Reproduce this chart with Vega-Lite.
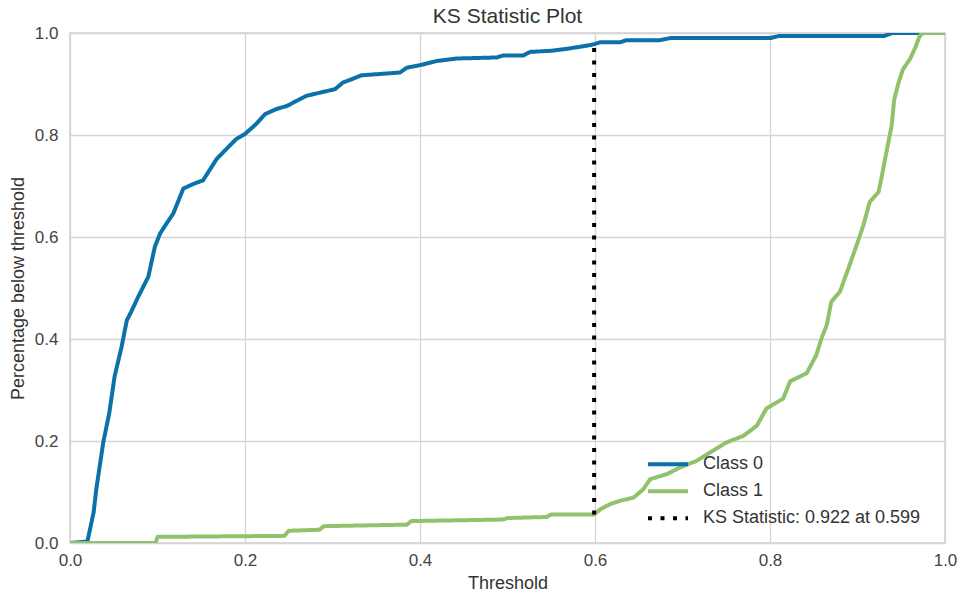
{
  "$schema": "https://vega.github.io/schema/vega-lite/v6.json",
  "width": 875,
  "height": 510,
  "autosize": {"type": "none"},
  "padding": {"left": 70, "top": 33, "right": 19, "bottom": 54},
  "background": "white",
  "config": {
    "font": "Liberation Sans",
    "view": {"stroke": "#d0d0d0", "strokeWidth": 1.5},
    "axis": {
      "gridColor": "#d5d5d5",
      "gridWidth": 1.3,
      "domain": false,
      "ticks": false,
      "labelFontSize": 17,
      "labelColor": "#444444",
      "titleFontSize": 18,
      "titleFontWeight": "normal",
      "titleColor": "#333333"
    }
  },
  "title": {"text": "KS Statistic Plot", "fontSize": 21, "fontWeight": "normal", "color": "#333333", "offset": -3, "frame": "group"},
  "data": {
    "values": [
      {"s": "Class 0", "x": 0, "y": 0},
      {"s": "Class 0", "x": 0.02, "y": 0.003},
      {"s": "Class 0", "x": 0.021, "y": 0.012},
      {"s": "Class 0", "x": 0.027, "y": 0.06},
      {"s": "Class 0", "x": 0.03, "y": 0.105},
      {"s": "Class 0", "x": 0.038, "y": 0.197},
      {"s": "Class 0", "x": 0.045, "y": 0.256},
      {"s": "Class 0", "x": 0.051, "y": 0.327},
      {"s": "Class 0", "x": 0.059, "y": 0.385},
      {"s": "Class 0", "x": 0.065, "y": 0.437},
      {"s": "Class 0", "x": 0.069, "y": 0.45},
      {"s": "Class 0", "x": 0.078, "y": 0.483},
      {"s": "Class 0", "x": 0.0895, "y": 0.522},
      {"s": "Class 0", "x": 0.097, "y": 0.581},
      {"s": "Class 0", "x": 0.103, "y": 0.607},
      {"s": "Class 0", "x": 0.109, "y": 0.623},
      {"s": "Class 0", "x": 0.118, "y": 0.646},
      {"s": "Class 0", "x": 0.126, "y": 0.68},
      {"s": "Class 0", "x": 0.1295, "y": 0.695},
      {"s": "Class 0", "x": 0.141, "y": 0.704},
      {"s": "Class 0", "x": 0.152, "y": 0.711},
      {"s": "Class 0", "x": 0.158, "y": 0.727},
      {"s": "Class 0", "x": 0.1676, "y": 0.753},
      {"s": "Class 0", "x": 0.179, "y": 0.773},
      {"s": "Class 0", "x": 0.19, "y": 0.792},
      {"s": "Class 0", "x": 0.2, "y": 0.802},
      {"s": "Class 0", "x": 0.213, "y": 0.822},
      {"s": "Class 0", "x": 0.223, "y": 0.841},
      {"s": "Class 0", "x": 0.236, "y": 0.851},
      {"s": "Class 0", "x": 0.248, "y": 0.857},
      {"s": "Class 0", "x": 0.259, "y": 0.867},
      {"s": "Class 0", "x": 0.2705, "y": 0.877},
      {"s": "Class 0", "x": 0.2857, "y": 0.883},
      {"s": "Class 0", "x": 0.303, "y": 0.89},
      {"s": "Class 0", "x": 0.312, "y": 0.903},
      {"s": "Class 0", "x": 0.32, "y": 0.908},
      {"s": "Class 0", "x": 0.333, "y": 0.917},
      {"s": "Class 0", "x": 0.377, "y": 0.9225},
      {"s": "Class 0", "x": 0.385, "y": 0.932},
      {"s": "Class 0", "x": 0.4, "y": 0.937},
      {"s": "Class 0", "x": 0.419, "y": 0.945},
      {"s": "Class 0", "x": 0.442, "y": 0.95},
      {"s": "Class 0", "x": 0.4876, "y": 0.952},
      {"s": "Class 0", "x": 0.495, "y": 0.956},
      {"s": "Class 0", "x": 0.518, "y": 0.956},
      {"s": "Class 0", "x": 0.526, "y": 0.963},
      {"s": "Class 0", "x": 0.549, "y": 0.965},
      {"s": "Class 0", "x": 0.568, "y": 0.969},
      {"s": "Class 0", "x": 0.59, "y": 0.975},
      {"s": "Class 0", "x": 0.599, "y": 0.978},
      {"s": "Class 0", "x": 0.606, "y": 0.982},
      {"s": "Class 0", "x": 0.629, "y": 0.982},
      {"s": "Class 0", "x": 0.636, "y": 0.986},
      {"s": "Class 0", "x": 0.674, "y": 0.986},
      {"s": "Class 0", "x": 0.686, "y": 0.99},
      {"s": "Class 0", "x": 0.8, "y": 0.99},
      {"s": "Class 0", "x": 0.81, "y": 0.994},
      {"s": "Class 0", "x": 0.93, "y": 0.994},
      {"s": "Class 0", "x": 0.94, "y": 1.0},
      {"s": "Class 0", "x": 1.0, "y": 1.0},
      {"s": "Class 1", "x": 0, "y": 0},
      {"s": "Class 1", "x": 0.098, "y": 0.0},
      {"s": "Class 1", "x": 0.1, "y": 0.012},
      {"s": "Class 1", "x": 0.245, "y": 0.014},
      {"s": "Class 1", "x": 0.25, "y": 0.024},
      {"s": "Class 1", "x": 0.285, "y": 0.026},
      {"s": "Class 1", "x": 0.29, "y": 0.033},
      {"s": "Class 1", "x": 0.385, "y": 0.036},
      {"s": "Class 1", "x": 0.39, "y": 0.043},
      {"s": "Class 1", "x": 0.495, "y": 0.046},
      {"s": "Class 1", "x": 0.5, "y": 0.049},
      {"s": "Class 1", "x": 0.545, "y": 0.051},
      {"s": "Class 1", "x": 0.55, "y": 0.056},
      {"s": "Class 1", "x": 0.599, "y": 0.056},
      {"s": "Class 1", "x": 0.606, "y": 0.066},
      {"s": "Class 1", "x": 0.617, "y": 0.076},
      {"s": "Class 1", "x": 0.629, "y": 0.083},
      {"s": "Class 1", "x": 0.644, "y": 0.089},
      {"s": "Class 1", "x": 0.655, "y": 0.105},
      {"s": "Class 1", "x": 0.663, "y": 0.125},
      {"s": "Class 1", "x": 0.682, "y": 0.135},
      {"s": "Class 1", "x": 0.697, "y": 0.148},
      {"s": "Class 1", "x": 0.716, "y": 0.161},
      {"s": "Class 1", "x": 0.731, "y": 0.177},
      {"s": "Class 1", "x": 0.75, "y": 0.197},
      {"s": "Class 1", "x": 0.7695, "y": 0.21},
      {"s": "Class 1", "x": 0.785, "y": 0.23},
      {"s": "Class 1", "x": 0.796, "y": 0.264},
      {"s": "Class 1", "x": 0.815, "y": 0.283},
      {"s": "Class 1", "x": 0.823, "y": 0.317},
      {"s": "Class 1", "x": 0.842, "y": 0.333},
      {"s": "Class 1", "x": 0.853, "y": 0.369},
      {"s": "Class 1", "x": 0.859, "y": 0.402},
      {"s": "Class 1", "x": 0.865, "y": 0.428},
      {"s": "Class 1", "x": 0.87, "y": 0.473},
      {"s": "Class 1", "x": 0.88, "y": 0.493},
      {"s": "Class 1", "x": 0.8895, "y": 0.538},
      {"s": "Class 1", "x": 0.899, "y": 0.584},
      {"s": "Class 1", "x": 0.9067, "y": 0.623},
      {"s": "Class 1", "x": 0.914, "y": 0.669},
      {"s": "Class 1", "x": 0.924, "y": 0.688},
      {"s": "Class 1", "x": 0.928, "y": 0.721},
      {"s": "Class 1", "x": 0.933, "y": 0.766},
      {"s": "Class 1", "x": 0.939, "y": 0.818},
      {"s": "Class 1", "x": 0.942, "y": 0.87},
      {"s": "Class 1", "x": 0.947, "y": 0.903},
      {"s": "Class 1", "x": 0.952, "y": 0.929},
      {"s": "Class 1", "x": 0.96, "y": 0.949},
      {"s": "Class 1", "x": 0.966, "y": 0.971},
      {"s": "Class 1", "x": 0.971, "y": 0.994},
      {"s": "Class 1", "x": 0.975, "y": 1.0},
      {"s": "Class 1", "x": 1.0, "y": 1.0},
      {"s": "KS Statistic: 0.922 at 0.599", "x": 0.599, "y": 0.056},
      {"s": "KS Statistic: 0.922 at 0.599", "x": 0.599, "y": 0.978}
    ]
  },
  "mark": {"type": "line", "strokeWidth": 4, "strokeCap": "butt", "strokeJoin": "round", "clip": true},
  "encoding": {
    "x": {
      "field": "x", "type": "quantitative",
      "scale": {"domain": [0, 1], "nice": false, "zero": false},
      "axis": {"title": "Threshold", "values": [0, 0.2, 0.4, 0.6, 0.8, 1.0], "format": ".1f", "labelPadding": 9, "titlePadding": 6, "labelFlush": false}
    },
    "y": {
      "field": "y", "type": "quantitative",
      "scale": {"domain": [0, 1], "nice": false},
      "axis": {"title": "Percentage below threshold", "values": [0, 0.2, 0.4, 0.6, 0.8, 1.0], "format": ".1f", "labelPadding": 12, "titlePadding": 7, "labelFlush": false}
    },
    "order": {"field": "x"},
    "color": {
      "field": "s", "type": "nominal",
      "scale": {
        "domain": ["Class 0", "Class 1", "KS Statistic: 0.922 at 0.599"],
        "range": ["#0a72a8", "#92c16b", "#000000"]
      },
      "legend": {
        "title": null,
        "orient": "none",
        "legendX": 576,
        "legendY": 418,
        "symbolType": "stroke",
        "symbolSize": 1600,
        "symbolStrokeWidth": 4,
        "labelFontSize": 18,
        "labelColor": "#333333",
        "labelOffset": 13,
        "labelLimit": 400,
        "clipHeight": 26.5,
        "rowPadding": 0
      }
    },
    "strokeDash": {
      "field": "s", "type": "nominal",
      "scale": {
        "domain": ["Class 0", "Class 1", "KS Statistic: 0.922 at 0.599"],
        "range": [[1, 0], [1, 0], [4, 8.5]]
      },
      "legend": null
    }
  }
}
